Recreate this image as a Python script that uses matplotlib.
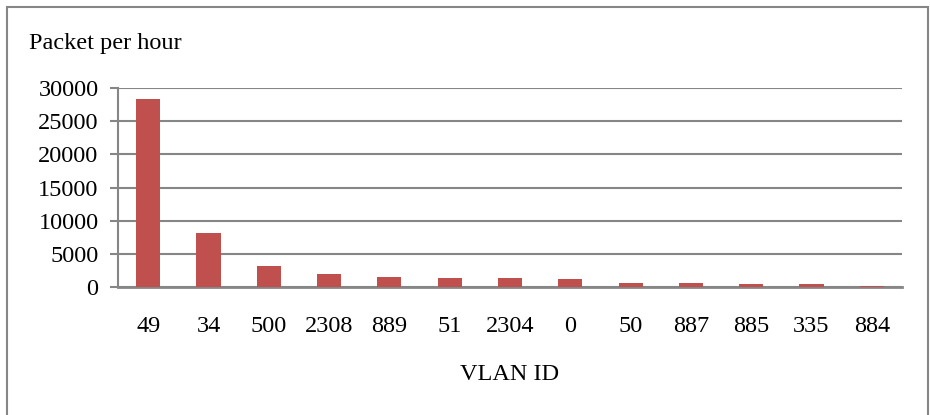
import matplotlib
matplotlib.use('Agg')
import matplotlib.pyplot as plt
from matplotlib.patches import Rectangle

# packets per hour for each VLAN
vlan_ids = ["49", "34", "500", "2308", "889", "51", "2304", "0", "50", "887", "885", "335", "884"]
packets = [28300, 8200, 3200, 1900, 1550, 1350, 1300, 1270, 660, 670, 500, 450, 150]

plt.rcParams['font.family'] = ['Liberation Serif', 'DejaVu Serif']

fig = plt.figure(figsize=(9.3, 4.15), dpi=100)
ax = fig.add_axes([0.1269, 0.3084, 0.843, 0.4795])

x = range(len(vlan_ids))
ax.bar(x, packets, width=0.4, color='#C0504D', zorder=3)
ax.set_xlim(-0.5, len(vlan_ids) - 0.5)
ax.set_ylim(0, 30000)
ax.set_yticks(range(0, 30001, 5000))
ax.set_xticks(list(x))
ax.set_xticklabels(vlan_ids, fontsize=17.5)
ax.tick_params(axis='x', length=0, pad=21)
ax.tick_params(axis='y', length=6, width=1.5, color='#868686', labelsize=17.5, pad=8)
ax.yaxis.grid(True, color='#868686', linewidth=1.5, zorder=0)

for side in ['top', 'right']:
    ax.spines[side].set_visible(False)
ax.spines['left'].set_color('#868686')
ax.spines['left'].set_linewidth(1.5)
ax.spines['bottom'].set_color('#868686')
ax.spines['bottom'].set_linewidth(2)

ax.set_xlabel('VLAN ID', fontsize=17.5, labelpad=19)
fig.text(29 / 930, 1 - 43 / 415, 'Packet per hour', fontsize=17.5, va='center', ha='left')

# chart frame
fig.patches.append(Rectangle((7 / 930, -0.1), 921 / 930, 1 - 7 / 415 + 0.1,
                             transform=fig.transFigure, fill=False,
                             edgecolor='#868686', linewidth=1.5))

fig.savefig('out.png', dpi=100)
plt.close()
